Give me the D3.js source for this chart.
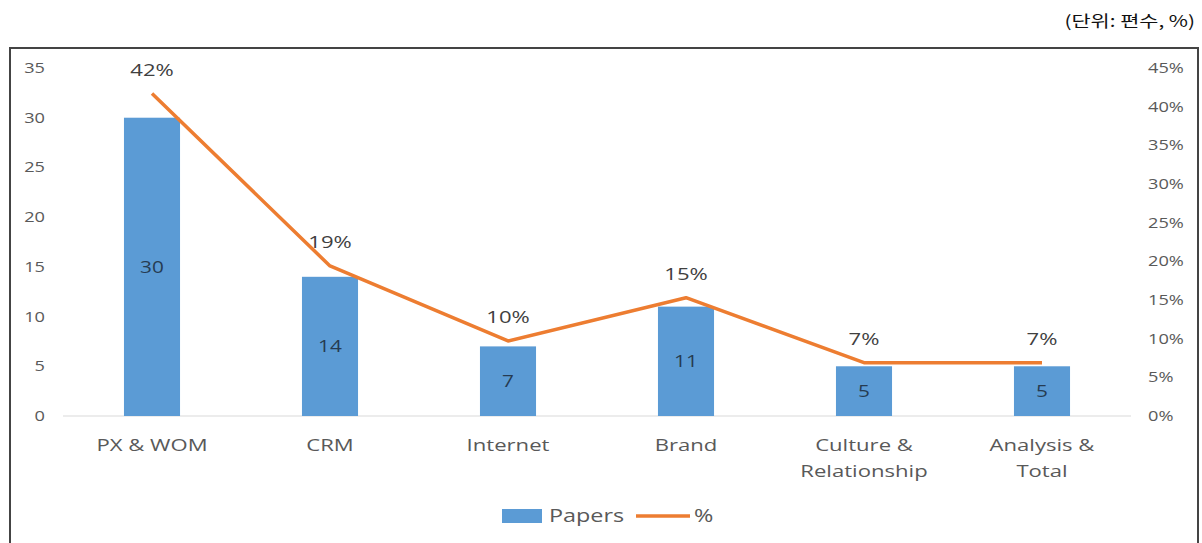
<!DOCTYPE html>
<html>
<head>
<meta charset="utf-8">
<style>
    body { margin: 0; background: #fff; }
    svg { display: block; font-family: 'Open Sans', 'Noto Sans', sans-serif; }
</style>
</head>
<body>
<svg width="1202" height="543"></svg>
<script src="https://d3js.org/d3.v7.min.js"></script>
<script>
    // data
    let categories = [["PX & WOM"], ["CRM"], ["Internet"], ["Brand"], ["Culture &", "Relationship"], ["Analysis &", "Total"]];
    let papers = [30, 14, 7, 11, 5, 5];
    let percents = [41.7, 19.4, 9.7, 15.3, 6.9, 6.9];
    let pctLabels = ["42%", "19%", "10%", "15%", "7%", "7%"];
    let leftTicks = [0, 5, 10, 15, 20, 25, 30, 35];
    let rightTicks = [0, 5, 10, 15, 20, 25, 30, 35, 40, 45];

    let svg = d3.select("svg");
    let grey = "#595959";
    let sx = 1.3; // the source text is drawn wide

    // put text at (x, y), stretched horizontally
    function place(sel, fx, fy) {
        sel.attr("transform", (d, i) => `translate(${fx(d, i)},${fy(d, i)}) scale(${sx},1)`);
    }

    // unit note
    svg.append("text")
        .attr("text-anchor", "end")
        .attr("transform", `translate(1195,27) scale(${sx},1)`)
        .style("font-family", "'Noto Sans CJK KR', sans-serif")
        .style("font-size", "16px")
        .attr("fill", "#111")
        .text("(단위:  편수,  %)");

    // frame
    svg.append("rect")
        .attr("x", 10).attr("y", 48)
        .attr("width", 1188).attr("height", 520)
        .attr("fill", "none")
        .attr("stroke", "#444")
        .attr("stroke-width", 2);

    let x = d3.scaleBand()
        .domain(d3.range(categories.length))
        .range([63, 1131])
        .paddingInner(0.685)
        .paddingOuter(0.3425);

    let yL = d3.scaleLinear().domain([0, 35]).range([416, 68]);
    let yR = d3.scaleLinear().domain([0, 45]).range([416, 68]);
    let cx = i => x(i) + x.bandwidth() / 2;

    // baseline
    svg.append("line")
        .attr("x1", 63).attr("x2", 1131)
        .attr("y1", yL(0)).attr("y2", yL(0))
        .attr("stroke", "#d9d9d9").attr("stroke-width", 1);

    // left axis labels
    svg.append("g").selectAll("text")
        .data(leftTicks)
        .join("text")
        .attr("text-anchor", "end")
        .style("font-size", "14px")
        .attr("fill", grey)
        .text(d => d)
        .call(place, () => 45, d => yL(d) + 5);

    // right axis labels
    svg.append("g").selectAll("text")
        .data(rightTicks)
        .join("text")
        .attr("text-anchor", "start")
        .style("font-size", "14px")
        .attr("fill", grey)
        .text(d => d + "%")
        .call(place, () => 1148, d => yR(d) + 5);

    // bars
    svg.append("g").selectAll("rect")
        .data(papers)
        .join("rect")
        .attr("x", (d, i) => x(i))
        .attr("width", x.bandwidth())
        .attr("y", d => yL(d))
        .attr("height", d => yL(0) - yL(d))
        .attr("fill", "#5B9BD5");

    // bar labels
    svg.append("g").selectAll("text")
        .data(papers)
        .join("text")
        .attr("text-anchor", "middle")
        .style("font-size", "16px")
        .attr("fill", "#263b52")
        .text(d => d)
        .call(place, (d, i) => cx(i), d => (yL(d) + yL(0)) / 2 + 6);

    // line
    let line = d3.line()
        .x((d, i) => cx(i))
        .y(d => yR(d));
    svg.append("path")
        .datum(percents)
        .attr("d", line)
        .attr("fill", "none")
        .attr("stroke", "#ED7D31")
        .attr("stroke-width", 3.5)
        .attr("stroke-linejoin", "round");

    // percent labels
    svg.append("g").selectAll("text")
        .data(percents)
        .join("text")
        .attr("text-anchor", "middle")
        .style("font-size", "17px")
        .attr("fill", "#404040")
        .text((d, i) => pctLabels[i])
        .call(place, (d, i) => cx(i), d => yR(d) - 18);

    // category labels
    let cat = svg.append("g").selectAll("text")
        .data(categories)
        .join("text")
        .attr("text-anchor", "middle")
        .style("font-size", "17px")
        .attr("fill", grey)
        .call(place, (d, i) => cx(i), () => 451);
    cat.selectAll("tspan")
        .data(d => d)
        .join("tspan")
        .attr("x", 0)
        .attr("dy", (d, i) => i === 0 ? 0 : 26)
        .text(d => d);

    // legend
    let lg = svg.append("g");
    lg.append("rect").attr("x", 502).attr("y", 509).attr("width", 40).attr("height", 14).attr("fill", "#5B9BD5");
    lg.append("text").attr("transform", `translate(549,522) scale(${sx},1)`)
        .style("font-size", "18px").attr("fill", grey).text("Papers");
    lg.append("line").attr("x1", 636).attr("x2", 690).attr("y1", 516).attr("y2", 516)
        .attr("stroke", "#ED7D31").attr("stroke-width", 3.5);
    lg.append("text").attr("transform", `translate(694,522) scale(${sx},1)`)
        .style("font-size", "18px").attr("fill", grey).text("%");
</script>
</body>
</html>
